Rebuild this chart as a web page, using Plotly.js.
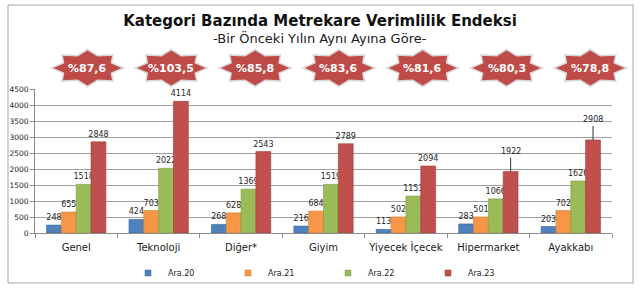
<!DOCTYPE html>
<html><head><meta charset="utf-8">
<script src="https://cdn.plot.ly/plotly-3.0.1.min.js"></script>
<style>html,body{margin:0;padding:0;background:#fff;}#chart{width:640px;height:292px;}</style>
</head><body><div id="chart"></div>
<script>
const categories = ['Genel','Teknoloji','Diğer*','Giyim','Yiyecek İçecek','Hipermarket','Ayakkabı'];
const seriesNames = ['Ara.20','Ara.21','Ara.22','Ara.23'];
const ara20 = [248,424,268,216,113,283,203];
const ara21 = [655,703,628,684,502,501,702];
const ara22 = [1518,2022,1369,1519,1153,1066,1626];
const ara23 = [2848,4114,2543,2789,2094,1922,2908];
const growthLabels = ['%87,6','%103,5','%85,8','%83,6','%81,6','%80,3','%78,8'];
const yTickVals = [0,500,1000,1500,2000,2500,3000,3500,4000,4500];

const colors = ['#4F81BD','#F79646','#9BBB59','#C0504D'];
const edge = ['#3A6597','#D07A30','#7E9C42','#9C3B38'];
const seriesVals = [ara20, ara21, ara22, ara23];
const legendIds = ['legend','legend2','legend3','legend4'];
const leaderCats = ['Hipermarket','Ayakkabı'];   // red labels drawn with a leader line

const FONT = 'DejaVu Sans, Verdana, sans-serif';
const PLOT_L = 35, PLOT_W = 577, PLOT_B = 233, PLOT_H = 144;
const px2x = v => (v - PLOT_L) / PLOT_W;
const px2y = v => (PLOT_B - v) / PLOT_H;
const BARGAP = 0.28;
const redShift = (PLOT_W / categories.length) * (1 - BARGAP) / 4 * 1.5;

const traces = [];
seriesVals.forEach((vals, k) => {
  const isRed = k === 3;
  traces.push({
    type: 'bar', x: categories, y: vals, name: seriesNames[k],
    marker: {color: colors[k], line: {color: edge[k], width: 0.6}},
    text: vals.map((v, i) => (isRed && leaderCats.includes(categories[i])) ? '' : String(v)),
    textposition: 'outside', cliponaxis: false,
    constraintext: 'none',
    textfont: {family: FONT, size: 8, color: '#262626'},
    showlegend: false, hoverinfo: 'x+y'
  });
});
seriesVals.forEach((vals, k) => {
  traces.push({
    type: 'scatter', mode: 'markers', x: [null], y: [null], name: seriesNames[k],
    marker: {symbol: 'square', size: 6, color: colors[k], line: {color: edge[k], width: 0.5}},
    showlegend: true, legend: legendIds[k], hoverinfo: 'skip'
  });
});

function starPath(rx, ry, ratio) {
  const pts = [];
  for (let j = 0; j < 16; j++) {
    const a = Math.PI * j / 8;
    const r = (j % 2 === 0) ? 1 : ratio;
    pts.push([(rx * r * Math.cos(a)).toFixed(2), (ry * r * Math.sin(a)).toFixed(2)]);
  }
  return 'M' + pts.map(p => p[0] + ',' + p[1]).join('L') + 'Z';
}

const STAR_Y = px2y(68);
const shapes = [{
  type: 'rect', xref: 'paper', yref: 'paper',
  x0: px2x(8), x1: px2x(633), y0: px2y(283), y1: px2y(5),
  line: {color: '#A6A6A6', width: 1}, fillcolor: 'rgba(0,0,0,0)', layer: 'below'
}];
const annotations = [];
growthLabels.forEach((g, i) => {
  const sx = px2x(87.5 + 83.8 * i);
  shapes.push({
    type: 'path', xref: 'paper', yref: 'paper', xsizemode: 'pixel', ysizemode: 'pixel',
    xanchor: sx, yanchor: STAR_Y, path: starPath(36, 18.5, 0.72),
    fillcolor: '#BE4B48', line: {color: '#D8D8D8', width: 1.5}, layer: 'above'
  });
  annotations.push({
    xref: 'paper', yref: 'paper', x: sx, y: STAR_Y, yanchor: 'middle', xanchor: 'center',
    text: g, showarrow: false,
    font: {family: FONT, size: 11, color: '#FFFFFF', weight: 'bold'}
  });
});
categories.forEach((c, i) => {
  if (!leaderCats.includes(c)) return;
  annotations.push({
    xref: 'x', yref: 'y', x: c, y: ara23[i], xshift: redShift,
    text: String(ara23[i]), showarrow: true, arrowhead: 0, arrowwidth: 1, arrowcolor: '#333333',
    ax: 0, ay: -14, standoff: -2, yanchor: 'bottom',
    font: {family: FONT, size: 8, color: '#262626'}
  });
});
annotations.push({
  xref: 'paper', yref: 'paper', x: px2x(320), y: px2y(38), yanchor: 'middle', xanchor: 'center',
  text: '-Bir Önceki Yılın Aynı Ayına Göre-', showarrow: false,
  font: {family: FONT, size: 13, color: '#1A1A1A'}
});

const layout = {
  width: 640, height: 292,
  margin: {l: 35, r: 28, t: 89, b: 59, autoexpand: false},
  paper_bgcolor: '#FFFFFF', plot_bgcolor: '#FFFFFF',
  title: {
    text: 'Kategori Bazında Metrekare Verimlilik Endeksi',
    x: 0.5, xanchor: 'center', xref: 'container',
    y: 1 - 21 / 292, yanchor: 'middle', yref: 'container',
    font: {family: FONT, size: 15, color: '#111111', weight: 'bold'}
  },
  barmode: 'group', bargap: BARGAP, bargroupgap: 0,
  xaxis: {
    type: 'category', showline: true, linecolor: '#8C8C8C', linewidth: 1,
    ticks: 'outside', tickson: 'boundaries', ticklen: 4, tickcolor: '#8C8C8C',
    showgrid: false, fixedrange: true, tickangle: 0, automargin: false,
    ticklabelstandoff: 5,
    tickfont: {family: FONT, size: 10, color: '#1A1A1A'}
  },
  yaxis: {
    range: [0, 4500], tickvals: yTickVals, ticktext: yTickVals.map(String),
    showline: true, linecolor: '#8C8C8C', linewidth: 1, automargin: false,
    ticks: 'outside', ticklen: 4, tickcolor: '#8C8C8C',
    showgrid: true, gridcolor: '#A0A0A0', gridwidth: 1, zeroline: false,
    tickfont: {family: FONT, size: 7.5, color: '#1A1A1A'}, fixedrange: true
  },
  shapes: shapes,
  annotations: annotations,
  showlegend: true
};
legendIds.forEach((id, k) => {
  layout[id] = {
    orientation: 'h', x: px2x(128 + 100 * k), xanchor: 'left', y: px2y(273), yanchor: 'middle',
    itemwidth: 30,
    font: {family: FONT, size: 8, color: '#1A1A1A'}, bgcolor: 'rgba(0,0,0,0)'
  };
});

Plotly.newPlot('chart', traces, layout, {displayModeBar: false, staticPlot: true});
</script>
</body></html>
